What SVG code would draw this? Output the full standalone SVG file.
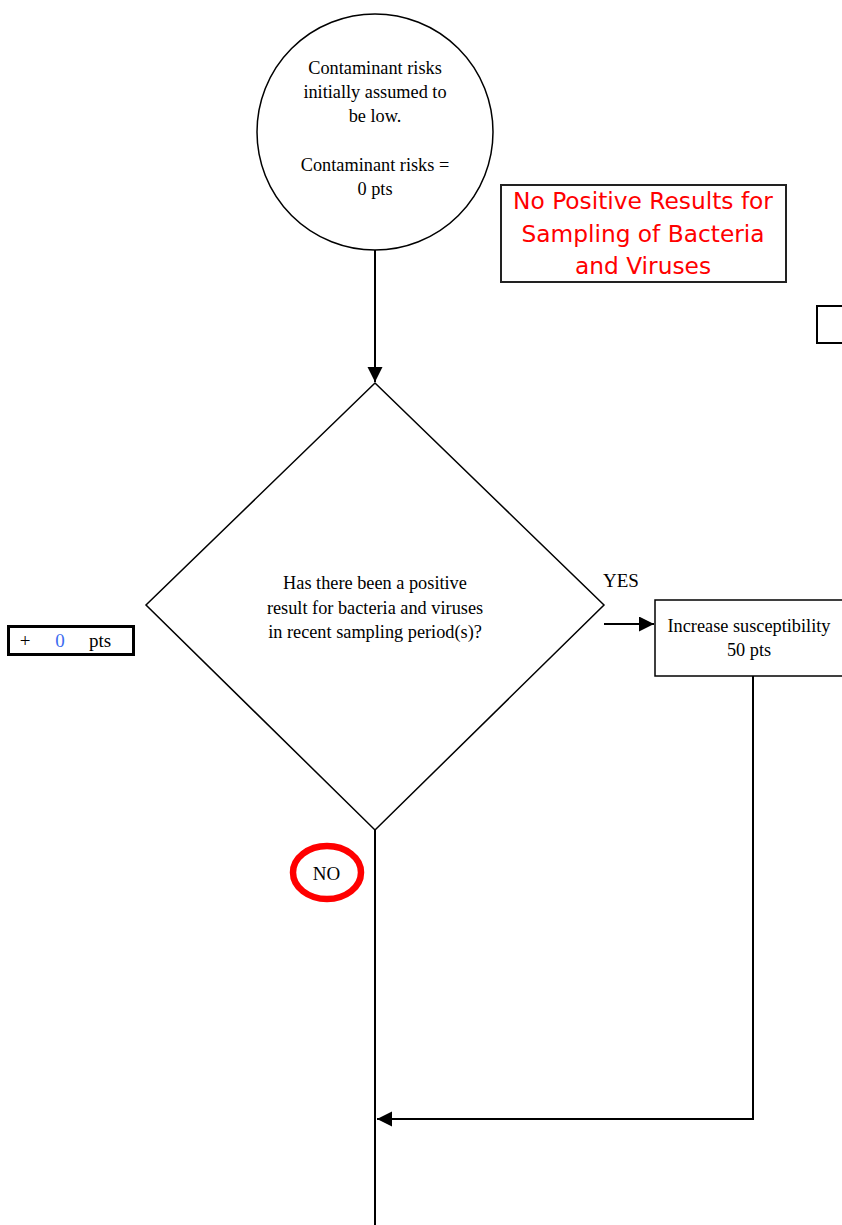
<svg xmlns="http://www.w3.org/2000/svg" width="842" height="1225" viewBox="0 0 842 1225">
<style>
  .serif { font-family: "Liberation Serif", "Times New Roman", serif; fill: #000; }
  .t18 { font-size: 18.3px; text-anchor: middle; }
  .shape { fill: #fff; stroke: #000; stroke-width: 1.5; }
  .conn { fill: none; stroke: #000; stroke-width: 2; }
  .red { font-family: "DejaVu Sans", Verdana, sans-serif; font-size: 23.3px; fill: #ff0000; text-anchor: middle; }
</style>
<defs>
  <marker id="arrow" markerUnits="userSpaceOnUse" markerWidth="16" markerHeight="16" refX="15" refY="7.5" orient="auto">
    <path d="M0,0 L15,7.5 L0,15 z" fill="#000"/>
  </marker>
</defs>
<rect x="0" y="0" width="842" height="1225" fill="#fff"/>

<g id="connectors">
  <line class="conn" x1="375" y1="250" x2="375" y2="382" marker-end="url(#arrow)"/>
  <line class="conn" x1="604" y1="624" x2="654" y2="624" marker-end="url(#arrow)"/>
  <line class="conn" x1="375" y1="830" x2="375" y2="1225"/>
  <polyline class="conn" points="753,676 753,1119 377,1119" marker-end="url(#arrow)"/>
</g>

<g id="start-circle">
  <circle class="shape" cx="375" cy="132" r="118"/>
  <text class="serif t18" x="375" y="74">Contaminant risks</text>
  <text class="serif t18" x="375" y="98">initially assumed to</text>
  <text class="serif t18" x="375" y="122">be low.</text>
  <text class="serif t18" x="375" y="171">Contaminant risks =</text>
  <text class="serif t18" x="375" y="195">0 pts</text>
</g>

<g id="title-box">
  <rect x="501" y="185" width="285" height="97" fill="#fff" stroke="#222" stroke-width="2"/>
  <text class="red" x="643" y="209">No Positive Results for</text>
  <text class="red" x="643" y="242">Sampling of Bacteria</text>
  <text class="red" x="643" y="274">and Viruses</text>
</g>

<g id="edge-box">
  <rect x="817" y="306" width="40" height="37" fill="#fff" stroke="#000" stroke-width="2"/>
</g>

<g id="decision">
  <polygon class="shape" points="375,383 604,605 375,830 146,605"/>
  <text class="serif t18" x="375" y="589">Has there been a positive</text>
  <text class="serif t18" x="375" y="614">result for bacteria and viruses</text>
  <text class="serif t18" x="375" y="638">in recent sampling period(s)?</text>
</g>

<g id="yes-label">
  <text class="serif" x="621" y="587" font-size="19" text-anchor="middle">YES</text>
</g>

<g id="increase-box">
  <rect class="shape" x="655" y="600" width="200" height="76"/>
  <text class="serif t18" x="749" y="632">Increase susceptibility</text>
  <text class="serif t18" x="749" y="656">50 pts</text>
</g>

<g id="points-box">
  <rect x="8.5" y="626.5" width="125" height="28" fill="#fff" stroke="#000" stroke-width="3"/>
  <text class="serif" x="25" y="647" font-size="19" text-anchor="middle">+</text>
  <text x="60" y="647" font-size="19" text-anchor="middle" font-family="Liberation Serif, serif" fill="#3c6cf0">0</text>
  <text class="serif" x="100" y="647" font-size="19" text-anchor="middle">pts</text>
</g>

<g id="no-label">
  <ellipse cx="327" cy="872.5" rx="34" ry="26.5" fill="#fff" stroke="#ff0000" stroke-width="6.5"/>
  <text class="serif" x="326.5" y="880" font-size="19" text-anchor="middle">NO</text>
</g>
</svg>
